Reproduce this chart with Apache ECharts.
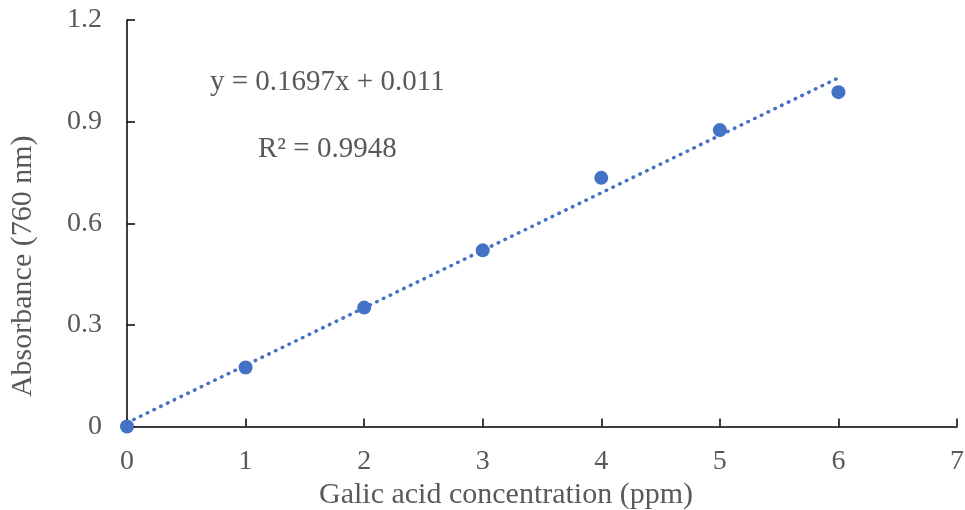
<!DOCTYPE html>
<html>
<head>
<meta charset="utf-8">
<script src="https://cdn.jsdelivr.net/npm/echarts@6/dist/echarts.min.js"></script>
<style>
  html, body { margin: 0; padding: 0; background: #fff; }
  #chart { width: 965px; height: 510px; }
</style>
</head>
<body>
<div id="chart"></div>
<script>
// Gallic acid calibration: concentration (ppm) vs absorbance at 760 nm
const concentrations = [0, 1, 2, 3, 4, 5, 6];
const absorbance = [0, 0.174, 0.351, 0.520, 0.734, 0.875, 0.987];

// Linear fit reported on the chart
const fitSlope = 0.1697;
const fitIntercept = 0.011;
const fitR2 = 0.9948;

const xTicks = [0, 1, 2, 3, 4, 5, 6, 7];
const yTicks = [0, 0.3, 0.6, 0.9, 1.2];

const FONT = '"Liberation Serif", "Times New Roman", serif';
const GREY = '#595959';
const BLUE = '#4472C4';

const points = concentrations.map((x, i) => [x, absorbance[i]]);
const xFirst = concentrations[0];
const xLast = concentrations[concentrations.length - 1];
const trend = [
  [xFirst, fitSlope * xFirst + fitIntercept],
  [xLast, fitSlope * xLast + fitIntercept]
];

const chart = echarts.init(document.getElementById('chart'), null, { renderer: 'canvas' });

chart.setOption({
  animation: false,
  backgroundColor: '#ffffff',
  grid: {
    left: 127, right: 8, top: 20, bottom: 83.5,
    containLabel: false,
    outerBoundsMode: 'none'
  },
  xAxis: {
    type: 'value',
    min: xTicks[0],
    max: xTicks[xTicks.length - 1],
    interval: 1,
    name: 'Galic acid concentration (ppm)',
    nameLocation: 'middle',
    nameGap: 52,
    // right padding pulls the title a little left of the plot centre
    nameTextStyle: { fontFamily: FONT, fontSize: 30, color: GREY, padding: [0, 72, 0, 0] },
    axisLine: { show: true, lineStyle: { color: '#000', width: 1.5 } },
    axisTick: { show: true, inside: true, length: 8, lineStyle: { color: '#000', width: 1.5 } },
    axisLabel: { fontFamily: FONT, fontSize: 28, color: GREY, margin: 21 },
    splitLine: { show: false }
  },
  yAxis: {
    type: 'value',
    min: yTicks[0],
    max: yTicks[yTicks.length - 1],
    interval: 0.3,
    name: 'Absorbance (760 nm)',
    nameLocation: 'middle',
    nameGap: 89,
    // right padding (along the rotated text) moves the title down
    nameTextStyle: { fontFamily: FONT, fontSize: 30, color: GREY, padding: [0, 86, 0, 0] },
    axisLine: { show: true, lineStyle: { color: '#000', width: 1.5 } },
    axisTick: { show: true, inside: true, length: 8, lineStyle: { color: '#000', width: 1.5 } },
    axisLabel: {
      fontFamily: FONT, fontSize: 28, color: GREY, margin: 25,
      formatter: v => (v === 0 ? '0' : String(Math.round(v * 10) / 10))
    },
    splitLine: { show: false }
  },
  graphic: [
    {
      type: 'text', left: 210, top: 68,
      style: { text: 'y = ' + fitSlope + 'x + ' + fitIntercept, font: '29px ' + FONT, fill: GREY }
    },
    {
      type: 'text', left: 258, top: 135,
      style: { text: 'R² = ' + fitR2, font: '29px ' + FONT, fill: GREY }
    }
  ],
  series: [
    {
      name: 'Linear fit',
      type: 'line',
      data: trend,
      symbol: 'none',
      lineStyle: { color: BLUE, width: 3.5, type: [0.5, 7], cap: 'round' },
      z: 2
    },
    {
      name: 'Absorbance',
      type: 'scatter',
      data: points,
      symbol: 'circle',
      symbolSize: 14,
      itemStyle: { color: BLUE, opacity: 1 },
      z: 3
    }
  ]
});
</script>
</body>
</html>
